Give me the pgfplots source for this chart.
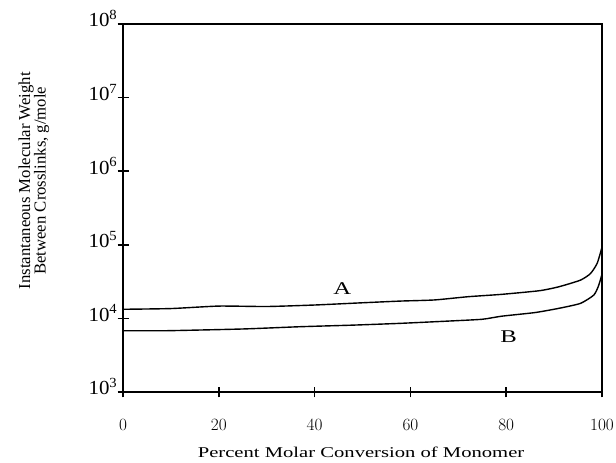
\documentclass[border=0pt]{standalone}
\usepackage{pgfplots}
\pgfplotsset{compat=1.18}
\usepackage{fontspec}
\setmainfont{Liberation Serif}
\newfontfamily\wideA[FakeStretch=1.38]{Liberation Serif}
\newfontfamily\wideT[FakeStretch=1.2]{Liberation Serif}
\newfontfamily\wideY[FakeStretch=1.05]{Liberation Serif}
\newfontfamily\plainY{Liberation Serif}
\begin{document}
\begin{tikzpicture}
\begin{axis}[
  scale only axis,
  width=479bp, height=368bp,
  ymode=log,
  xmin=0, xmax=100, ymin=1e3, ymax=1e8,
  xtick={0,20,40,60,80,100},
  ytick={1e3,1e4,1e5,1e6,1e7,1e8},
  yticklabels={10\textsuperscript{3},10\textsuperscript{4},10\textsuperscript{5},10\textsuperscript{6},10\textsuperscript{7},10\textsuperscript{8}},
  yminorticks=false,
  xtick pos=left, ytick pos=left,
  tick align=center,
  major tick length=11bp,
  axis line style={line width=1.6bp},
  every tick/.style={line width=1.5bp, black},
  xticklabel style={font=\wideT\fontsize{18}{20}\selectfont, anchor=base, yshift=-33bp, inner sep=0pt},
  yticklabel style={font=\wideY\fontsize{20}{22}\selectfont, anchor=base east, inner sep=0pt, yshift=-3bp},
  xlabel={Percent Molar Conversion of Monomer},
  xlabel style={font=\wideA\fontsize{15}{16}\selectfont, at={(axis description cs:0.497,-0.179)}, anchor=base, inner sep=0pt},
  ylabel={Instantaneous Molecular Weight\\Between Crosslinks, g/mole},
  ylabel style={font=\plainY\fontsize{16.8}{15.5}\selectfont, align=center, at={(axis description cs:-0.186,0.574)}, anchor=center, inner sep=0pt},
  clip=false,
]
\addplot[black, line width=1.4bp, smooth, tension=0.35] coordinates {
(0,13300) (10,13600) (20,14700) (30,14500) (40,15200) (50,16300) (58,17200) (65,17800) (72,19700) (79,21200) (87,23800) (91,26900) (95.5,33100) (97.6,40700) (99,56200) (100,93000)};
\addplot[black, line width=1.4bp, smooth, tension=0.35] coordinates {
(0,6800) (9,6800) (25,7180) (37,7710) (48,8100) (58,8570) (68,9200) (75,9730) (79,10700) (86,12000) (91,13700) (95.5,16000) (98.3,20800) (99.3,28000) (100,40000)};
\node[font=\wideA\fontsize{18}{20}\selectfont, inner sep=0pt] at (axis cs:45.8,25060) {A};
\node[font=\wideA\fontsize{18}{20}\selectfont, inner sep=0pt] at (axis cs:80.5,5680) {B};
\coordinate (bbl) at (rel axis cs:-0.2568,-0.1929);
\coordinate (btr) at (rel axis cs:1.0292,1.0652);
\end{axis}
\pgfresetboundingbox
\path (bbl) rectangle (btr);
\end{tikzpicture}
\end{document}
